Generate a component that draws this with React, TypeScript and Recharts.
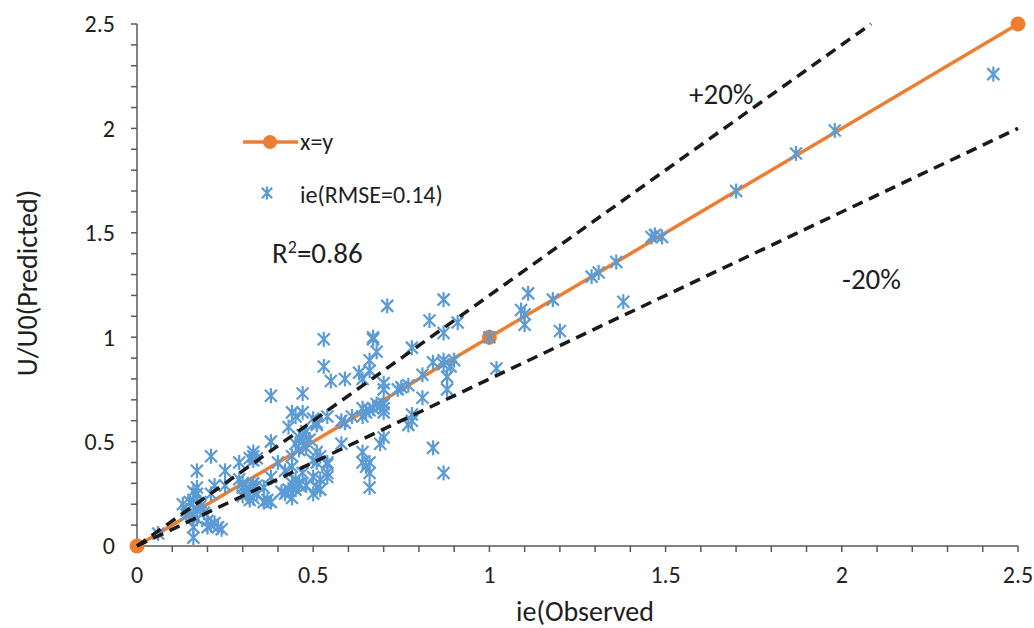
import React from "react";
import { ScatterChart, Scatter, XAxis, YAxis } from "recharts";

const FONT = "Carlito, Calibri, Lato, sans-serif";
const TEXT = "#1f1f1f";
const AXIS = "#595959";
const ORANGE = "#ED7D31";
const BLUE = "#5B9BD5";

// axis ticks (minor every 0.1, labelled every 0.5)
const xTicks = [0, 0.1, 0.2, 0.3, 0.4, 0.5, 0.6, 0.7, 0.8, 0.9, 1, 1.1, 1.2, 1.3, 1.4, 1.5, 1.6, 1.7, 1.8, 1.9, 2, 2.1, 2.2, 2.3, 2.4, 2.5];
const yTicks = [0, 0.1, 0.2, 0.3, 0.4, 0.5, 0.6, 0.7, 0.8, 0.9, 1, 1.1, 1.2, 1.3, 1.4, 1.5, 1.6, 1.7, 1.8, 1.9, 2, 2.1, 2.2, 2.3, 2.4, 2.5];
const tickLabels = ["0", "0.5", "1", "1.5", "2", "2.5"];

// x=y reference line
const lineX = [0, 1, 2.5];
const lineY = [0, 1, 2.5];
// +20% / -20% bands
const upperX = [0, 2.083];
const upperY = [0, 2.5];
const lowerX = [0, 2.5];
const lowerY = [0, 2.0];

// ie observed vs predicted
const obsX = [
  2.43, 1.98, 1.87, 1.70, 1.46, 1.47, 1.49, 1.36, 1.38, 1.29, 1.31, 1.18, 1.20, 1.11, 1.09, 1.10, 1.10, 1.02, 1.00,
  0.71, 0.87, 0.83, 0.91, 0.87, 0.78, 0.84, 0.87, 0.87, 0.89, 0.90, 0.88, 0.88, 0.81, 0.81, 0.77, 0.75, 0.74, 0.70, 0.70, 0.70, 0.78, 0.77, 0.78, 0.84, 0.87,
  0.53, 0.53, 0.55, 0.59, 0.63, 0.64, 0.67, 0.67, 0.68, 0.66, 0.66, 0.68, 0.70, 0.70, 0.64, 0.65, 0.66, 0.67, 0.69, 0.64, 0.61, 0.58, 0.59, 0.54, 0.58,
  0.52, 0.54, 0.54, 0.52, 0.52, 0.69, 0.70, 0.64, 0.64, 0.65, 0.66, 0.66, 0.66,
  0.38, 0.47, 0.44, 0.47, 0.45, 0.50, 0.51, 0.51, 0.43, 0.38, 0.40, 0.45, 0.46, 0.47, 0.48, 0.46, 0.47, 0.49, 0.48, 0.44,
  0.51, 0.51, 0.54, 0.54, 0.51, 0.50, 0.47, 0.45, 0.46, 0.48, 0.42, 0.36, 0.36,
  0.33, 0.33, 0.32, 0.34, 0.33, 0.29, 0.29, 0.30, 0.31, 0.31, 0.32, 0.30, 0.33, 0.34, 0.34, 0.30, 0.32, 0.33,
  0.25, 0.21, 0.21, 0.17, 0.17, 0.16, 0.17, 0.16, 0.18, 0.15, 0.18, 0.17, 0.16, 0.19, 0.17, 0.14, 0.13, 0.14,
  0.21, 0.20, 0.20, 0.23, 0.22, 0.24, 0.16, 0.16, 0.06,
  0.38, 0.37, 0.38, 0.41, 0.43, 0.44, 0.45, 0.44, 0.46, 0.42, 0.44, 0.50, 0.50, 0.25, 0.22,
];
const predY = [
  2.26, 1.99, 1.88, 1.70, 1.48, 1.49, 1.48, 1.36, 1.17, 1.29, 1.31, 1.18, 1.03, 1.21, 1.13, 1.11, 1.06, 0.85, 1.00,
  1.15, 1.18, 1.08, 1.07, 1.02, 0.95, 0.88, 0.87, 0.89, 0.86, 0.89, 0.81, 0.75, 0.82, 0.71, 0.77, 0.76, 0.75, 0.78, 0.75, 0.68, 0.63, 0.58, 0.60, 0.47, 0.35,
  0.99, 0.86, 0.79, 0.80, 0.83, 0.80, 0.99, 1.00, 0.93, 0.89, 0.84, 0.68, 0.66, 0.64, 0.66, 0.64, 0.65, 0.66, 0.67, 0.62, 0.62, 0.60, 0.59, 0.62, 0.49,
  0.43, 0.40, 0.35, 0.32, 0.27, 0.49, 0.52, 0.45, 0.40, 0.38, 0.40, 0.35, 0.28,
  0.72, 0.73, 0.64, 0.64, 0.62, 0.61, 0.59, 0.58, 0.57, 0.50, 0.40, 0.49, 0.52, 0.50, 0.47, 0.46, 0.53, 0.51, 0.55, 0.43,
  0.45, 0.40, 0.39, 0.33, 0.28, 0.25, 0.35, 0.32, 0.30, 0.29, 0.25, 0.28, 0.21,
  0.45, 0.43, 0.42, 0.42, 0.41, 0.40, 0.32, 0.30, 0.28, 0.25, 0.27, 0.24, 0.30, 0.29, 0.25, 0.28, 0.22, 0.23,
  0.36, 0.43, 0.25, 0.36, 0.28, 0.26, 0.25, 0.22, 0.21, 0.21, 0.19, 0.17, 0.15, 0.16, 0.13, 0.17, 0.20, 0.15,
  0.10, 0.09, 0.12, 0.09, 0.11, 0.08, 0.09, 0.04, 0.06,
  0.33, 0.22, 0.21, 0.26, 0.27, 0.30, 0.27, 0.23, 0.29, 0.36, 0.38, 0.41, 0.33, 0.29, 0.29,
];

const pairs = (xs: number[], ys: number[]) => xs.map((x, i) => ({ x, y: ys[i] }));

function Star({ cx, cy, r = 7.5 }: { cx: number; cy: number; r?: number }) {
  const d = r * 0.8;
  return (
    <g stroke={BLUE} strokeWidth={2.2}>
      <line x1={cx} y1={cy - r} x2={cx} y2={cy + r} />
      <line x1={cx - d} y1={cy - d} x2={cx + d} y2={cy + d} />
      <line x1={cx - d} y1={cy + d} x2={cx + d} y2={cy - d} />
    </g>
  );
}

function isLabelled(v: number) {
  return tickLabels.includes(String(v));
}

function XTick(props: any) {
  const { x, y, payload } = props;
  if (!isLabelled(payload.value)) return <g />;
  return (
    <text x={x} y={y} dy="0.71em" textAnchor="middle" fill={TEXT} fontSize={24} fontFamily={FONT}>
      {String(payload.value)}
    </text>
  );
}

function YTick(props: any) {
  const { x, y, payload } = props;
  if (!isLabelled(payload.value)) return <g />;
  return (
    <text x={x} y={y} dy="0.35em" textAnchor="end" fill={TEXT} fontSize={24} fontFamily={FONT}>
      {String(payload.value)}
    </text>
  );
}

const abs = (left: number, top: number, extra: React.CSSProperties = {}): React.CSSProperties => ({
  position: "absolute",
  left,
  top,
  transform: "translateY(-50%)",
  lineHeight: 1,
  whiteSpace: "nowrap",
  color: TEXT,
  fontFamily: FONT,
  ...extra,
});

export default function App() {
  return (
    <div style={{ position: "absolute", left: 0, top: 0, width: 1034, height: 628, background: "#fff" }}>
      <ScatterChart width={1034} height={628} margin={{ top: 24, right: 16, bottom: 0, left: 0 }}>
        <XAxis
          type="number"
          dataKey="x"
          domain={[0, 2.5]}
          ticks={xTicks}
          interval={0}
          height={82}
          tickSize={6}
          tickMargin={14}
          axisLine={{ stroke: AXIS, strokeWidth: 1.5 }}
          tickLine={{ stroke: AXIS, strokeWidth: 1.5 }}
          tick={<XTick />}
        />
        <YAxis
          type="number"
          dataKey="y"
          domain={[0, 2.5]}
          ticks={yTicks}
          interval={0}
          width={137}
          tickSize={6}
          tickMargin={16}
          axisLine={{ stroke: AXIS, strokeWidth: 1.5 }}
          tickLine={{ stroke: AXIS, strokeWidth: 1.5 }}
          tick={<YTick />}
        />
        <Scatter
          data={pairs(lineX, lineY)}
          line={{ stroke: ORANGE, strokeWidth: 3.5 }}
          shape={(p: any) => <circle cx={p.cx} cy={p.cy} r={7.5} fill={ORANGE} />}
          isAnimationActive={false}
        />
        <Scatter
          data={pairs(obsX, predY)}
          shape={(p: any) => <Star cx={p.cx} cy={p.cy} />}
          isAnimationActive={false}
        />
        <Scatter
          data={pairs(upperX, upperY)}
          line={{ stroke: "#1a1a1a", strokeWidth: 3.5, strokeDasharray: "11 7" }}
          shape={() => <g />}
          isAnimationActive={false}
        />
        <Scatter
          data={pairs(lowerX, lowerY)}
          line={{ stroke: "#1a1a1a", strokeWidth: 3.5, strokeDasharray: "11 7" }}
          shape={() => <g />}
          isAnimationActive={false}
        />
      </ScatterChart>

      {/* legend */}
      <svg style={{ position: "absolute", left: 240, top: 125 }} width={60} height={80}>
        <line x1={3} y1={17} x2={58} y2={17} stroke={ORANGE} strokeWidth={3.5} />
        <circle cx={30} cy={17} r={7} fill={ORANGE} />
        <Star cx={27} cy={68} r={6.5} />
      </svg>
      <div style={abs(300, 142, { fontSize: 24 })}>x=y</div>
      <div style={abs(300, 195, { fontSize: 24 })}>ie(RMSE=0.14)</div>

      {/* annotations */}
      <div style={abs(272, 253, { fontSize: 29 })}>
        R<sup style={{ fontSize: 18, verticalAlign: "0.55em" }}>2</sup>=0.86
      </div>
      <div style={abs(689, 94, { fontSize: 29 })}>+20%</div>
      <div style={abs(842, 279, { fontSize: 29 })}>-20%</div>

      {/* axis titles */}
      <div style={abs(585, 612, { fontSize: 28, transform: "translate(-50%, -50%)" })}>ie(Observed</div>
      <div
        style={abs(28, 283, {
          fontSize: 28,
          transform: "translate(-50%, -50%) rotate(-90deg)",
        })}
      >
        U/U0(Predicted)
      </div>
    </div>
  );
}
